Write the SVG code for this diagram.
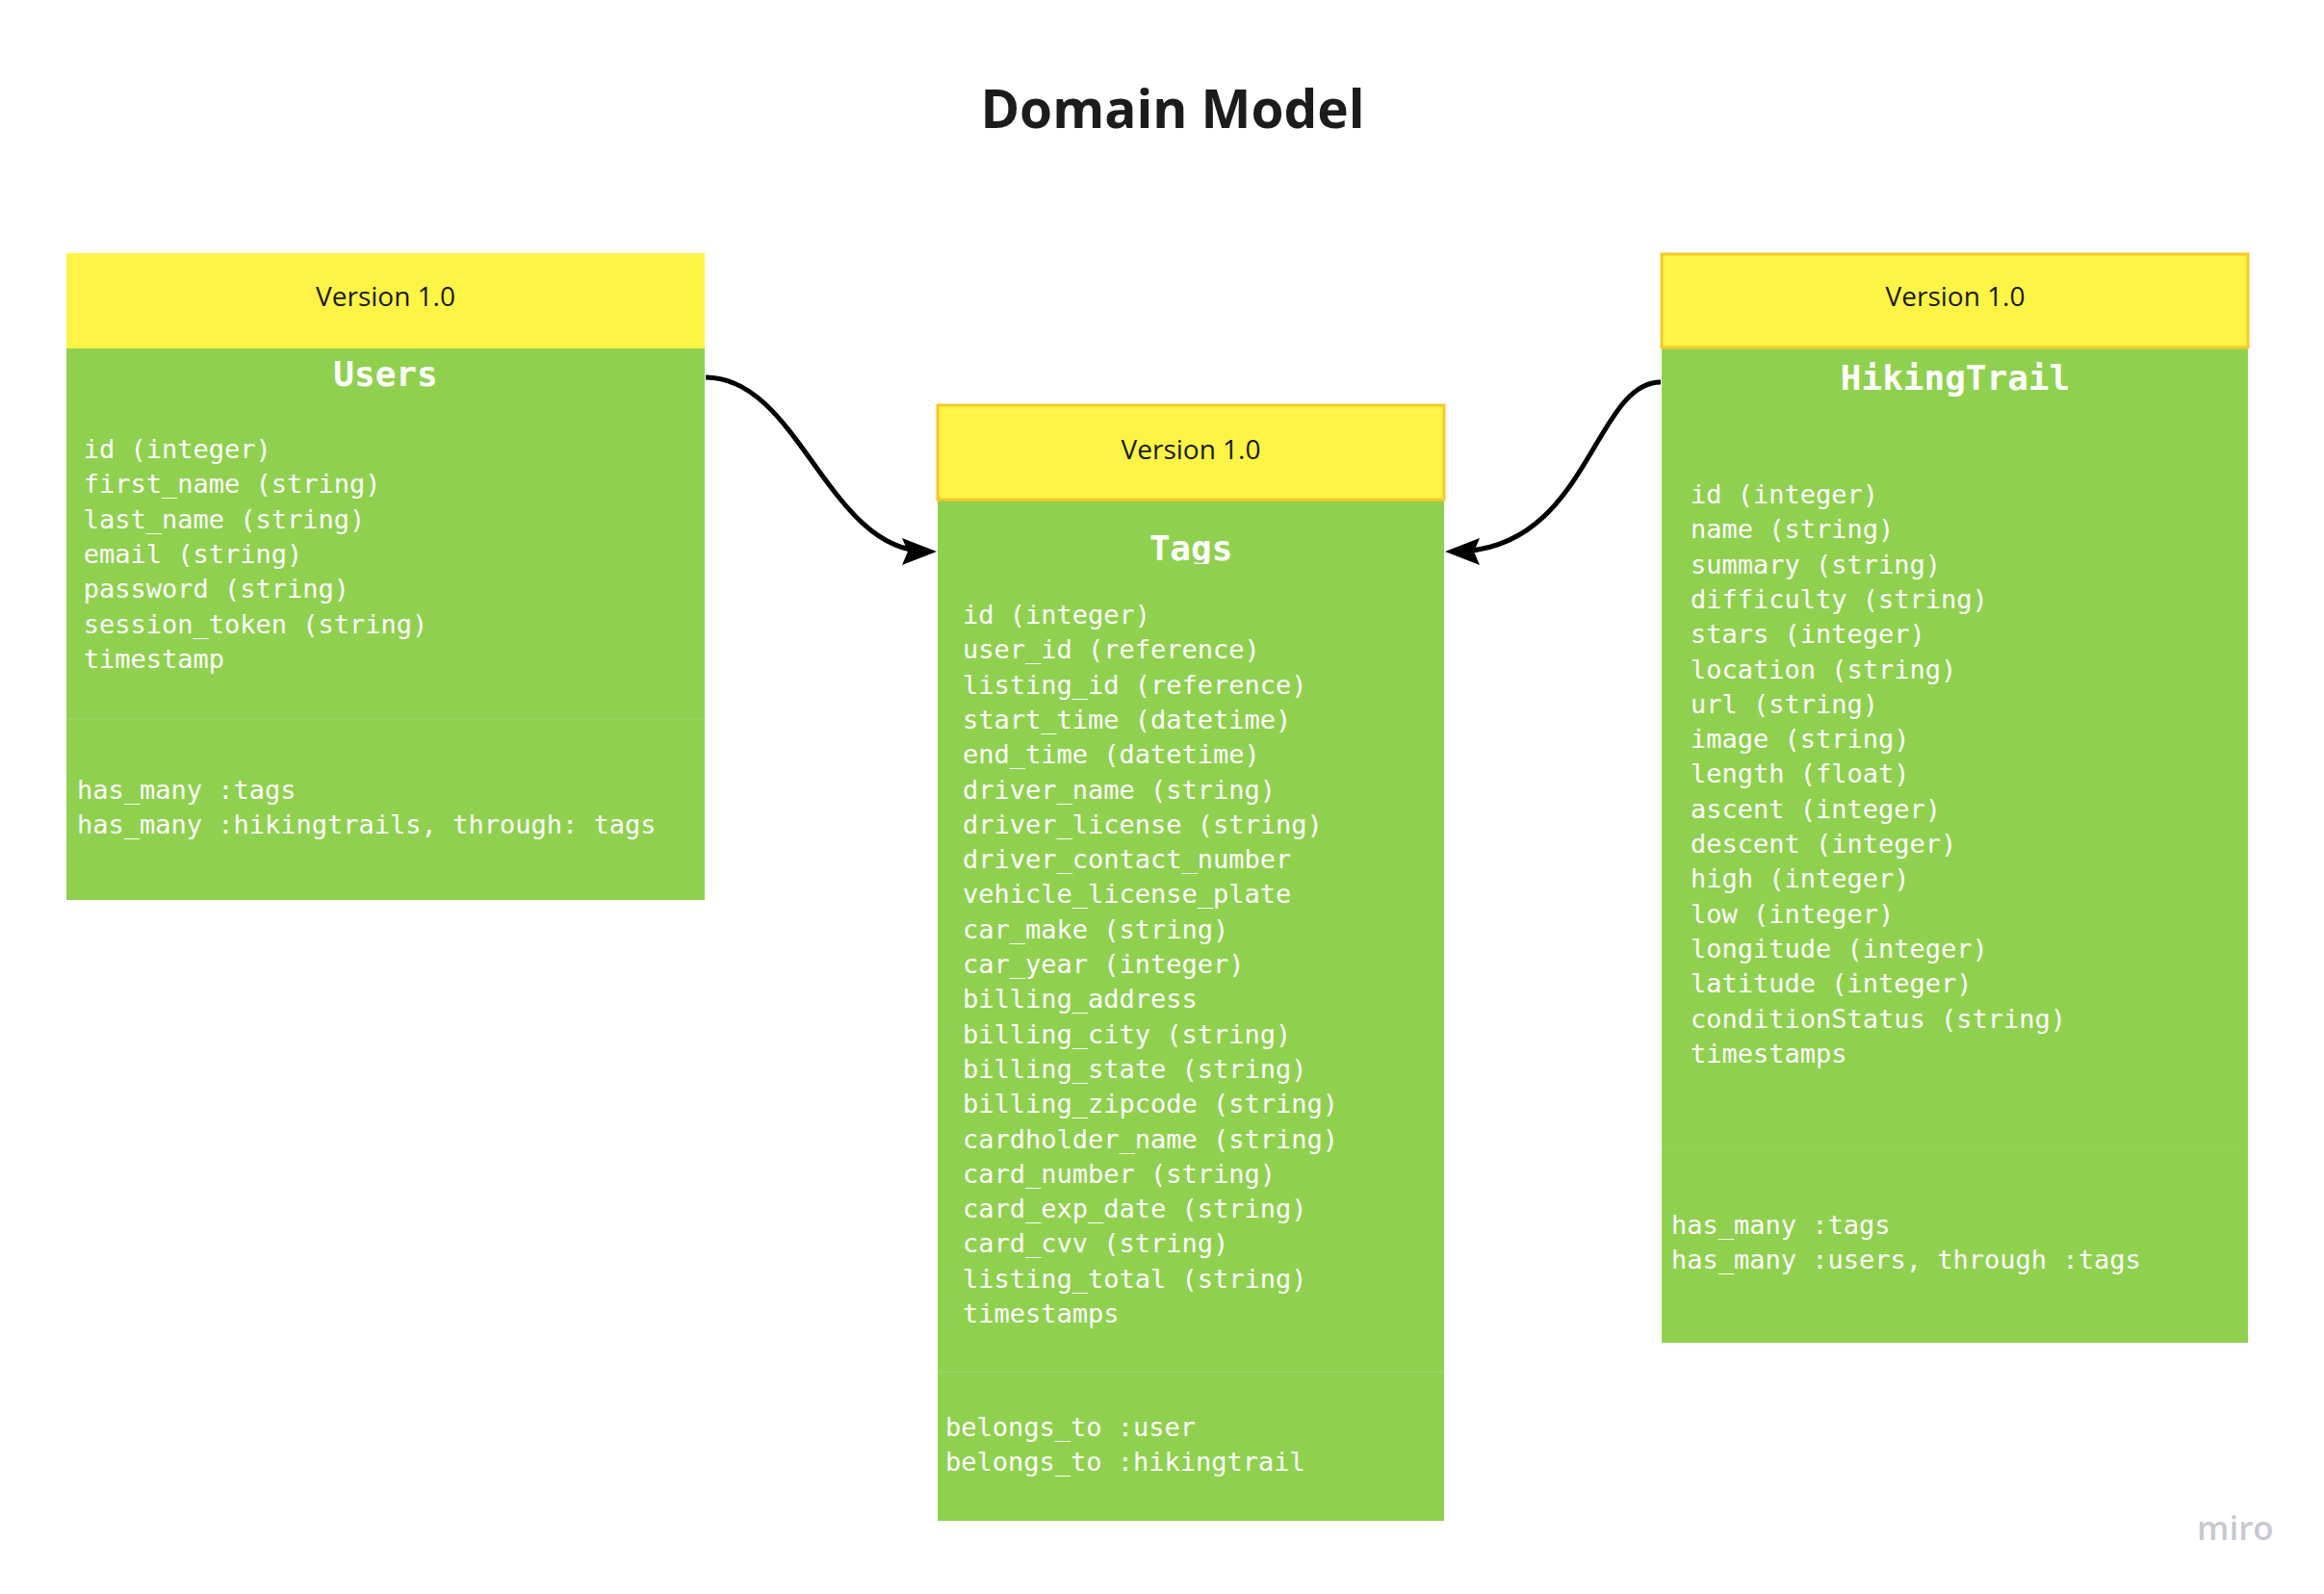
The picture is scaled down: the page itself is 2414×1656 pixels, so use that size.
<svg xmlns="http://www.w3.org/2000/svg" width="2414" height="1656" viewBox="0 0 2414 1656">
<style>
.hdr{fill:#fef445}
.hdrb{fill:#fef445;stroke:#f8c825;stroke-width:3}
.body{fill:#8fd14f}
.sep{stroke:#97d45a;stroke-width:2}
.ver{font-family:"Open Sans",sans-serif;font-size:28px;fill:#1a1a1a;text-anchor:middle}
.ttl{font-family:"DejaVu Sans Mono",monospace;font-weight:bold;font-size:36px;fill:#ffffff;text-anchor:middle}
.fld{font-family:"DejaVu Sans Mono",monospace;font-size:27px;fill:#ffffff}
.conn{fill:none;stroke:#000000;stroke-width:5}
.title{font-family:"Open Sans",sans-serif;font-weight:bold;font-size:55px;fill:#1c1c1c;text-anchor:middle}
.logo{font-family:"Open Sans",sans-serif;font-weight:600;font-size:35px;fill:#c8c8d2}
</style>
<defs>
<marker id="arr" markerUnits="userSpaceOnUse" markerWidth="40" markerHeight="32" refX="27" refY="15" orient="auto">
<path d="M1,1 L37,15 L1,29 L7,15 Z" fill="#000000"/>
</marker>
<clipPath id="tagsclip"><rect x="974" y="520" width="526" height="66"/></clipPath>
</defs>
<rect width="2414" height="1656" fill="#ffffff"/>
<text class="title" x="1218" y="133">Domain Model</text>

<g id="users">
<rect class="hdr" x="69" y="263" width="663" height="99"/>
<rect class="body" x="69" y="362" width="663" height="573"/>
<line class="sep" x1="69" y1="747" x2="732" y2="747"/>
<text class="ver" x="400.5" y="318">Version 1.0</text>
<text class="ttl" x="400.5" y="401">Users</text>
<text class="fld">
<tspan x="86.7" y="476">id (integer)</tspan>
<tspan x="86.7" y="512.3">first_name (string)</tspan>
<tspan x="86.7" y="548.6">last_name (string)</tspan>
<tspan x="86.7" y="584.9">email (string)</tspan>
<tspan x="86.7" y="621.2">password (string)</tspan>
<tspan x="86.7" y="657.5">session_token (string)</tspan>
<tspan x="86.7" y="693.8">timestamp</tspan>
</text>
<text class="fld">
<tspan x="80" y="830">has_many :tags</tspan>
<tspan x="80" y="866.3">has_many :hikingtrails, through: tags</tspan>
</text>
</g>

<g id="tags">
<rect class="body" x="974" y="520" width="526" height="1060"/>
<rect class="hdrb" x="974" y="421" width="526" height="98"/>
<line class="sep" x1="974" y1="1425" x2="1500" y2="1425"/>
<text class="ver" x="1237" y="477">Version 1.0</text>
<text class="ttl" x="1237" y="582" clip-path="url(#tagsclip)">Tags</text>
<text class="fld">
<tspan x="1000" y="648">id (integer)</tspan>
<tspan x="1000" y="684.3">user_id (reference)</tspan>
<tspan x="1000" y="720.6">listing_id (reference)</tspan>
<tspan x="1000" y="756.9">start_time (datetime)</tspan>
<tspan x="1000" y="793.2">end_time (datetime)</tspan>
<tspan x="1000" y="829.5">driver_name (string)</tspan>
<tspan x="1000" y="865.8">driver_license (string)</tspan>
<tspan x="1000" y="902.1">driver_contact_number</tspan>
<tspan x="1000" y="938.4">vehicle_license_plate</tspan>
<tspan x="1000" y="974.7">car_make (string)</tspan>
<tspan x="1000" y="1011">car_year (integer)</tspan>
<tspan x="1000" y="1047.3">billing_address</tspan>
<tspan x="1000" y="1083.6">billing_city (string)</tspan>
<tspan x="1000" y="1119.9">billing_state (string)</tspan>
<tspan x="1000" y="1156.2">billing_zipcode (string)</tspan>
<tspan x="1000" y="1192.5">cardholder_name (string)</tspan>
<tspan x="1000" y="1228.8">card_number (string)</tspan>
<tspan x="1000" y="1265.1">card_exp_date (string)</tspan>
<tspan x="1000" y="1301.4">card_cvv (string)</tspan>
<tspan x="1000" y="1337.7">listing_total (string)</tspan>
<tspan x="1000" y="1374">timestamps</tspan>
</text>
<text class="fld">
<tspan x="982" y="1492">belongs_to :user</tspan>
<tspan x="982" y="1528.3">belongs_to :hikingtrail</tspan>
</text>
</g>

<g id="hikingtrail">
<rect class="body" x="1726" y="362" width="609" height="1033"/>
<rect class="hdrb" x="1726" y="264" width="609" height="97"/>
<line class="sep" x1="1726" y1="1194" x2="2335" y2="1194" stroke-opacity="0.25"/>
<text class="ver" x="2031" y="318">Version 1.0</text>
<text class="ttl" x="2031" y="405">HikingTrail</text>
<text class="fld">
<tspan x="1756" y="523">id (integer)</tspan>
<tspan x="1756" y="559.3">name (string)</tspan>
<tspan x="1756" y="595.6">summary (string)</tspan>
<tspan x="1756" y="631.9">difficulty (string)</tspan>
<tspan x="1756" y="668.2">stars (integer)</tspan>
<tspan x="1756" y="704.5">location (string)</tspan>
<tspan x="1756" y="740.8">url (string)</tspan>
<tspan x="1756" y="777.1">image (string)</tspan>
<tspan x="1756" y="813.4">length (float)</tspan>
<tspan x="1756" y="849.7">ascent (integer)</tspan>
<tspan x="1756" y="886">descent (integer)</tspan>
<tspan x="1756" y="922.3">high (integer)</tspan>
<tspan x="1756" y="958.6">low (integer)</tspan>
<tspan x="1756" y="994.9">longitude (integer)</tspan>
<tspan x="1756" y="1031.2">latitude (integer)</tspan>
<tspan x="1756" y="1067.5">conditionStatus (string)</tspan>
<tspan x="1756" y="1103.8">timestamps</tspan>
</text>
<text class="fld">
<tspan x="1736" y="1282">has_many :tags</tspan>
<tspan x="1736" y="1318.3">has_many :users, through :tags</tspan>
</text>
</g>

<g id="connectors">
<path class="conn" d="M733,392 C830,392 860,573 963,573" marker-end="url(#arr)"/>
<path class="conn" d="M1725,397 C1655,397 1650,573 1511,573" marker-end="url(#arr)"/>
</g>

<text class="logo" x="2282" y="1600">miro</text>
</svg>
